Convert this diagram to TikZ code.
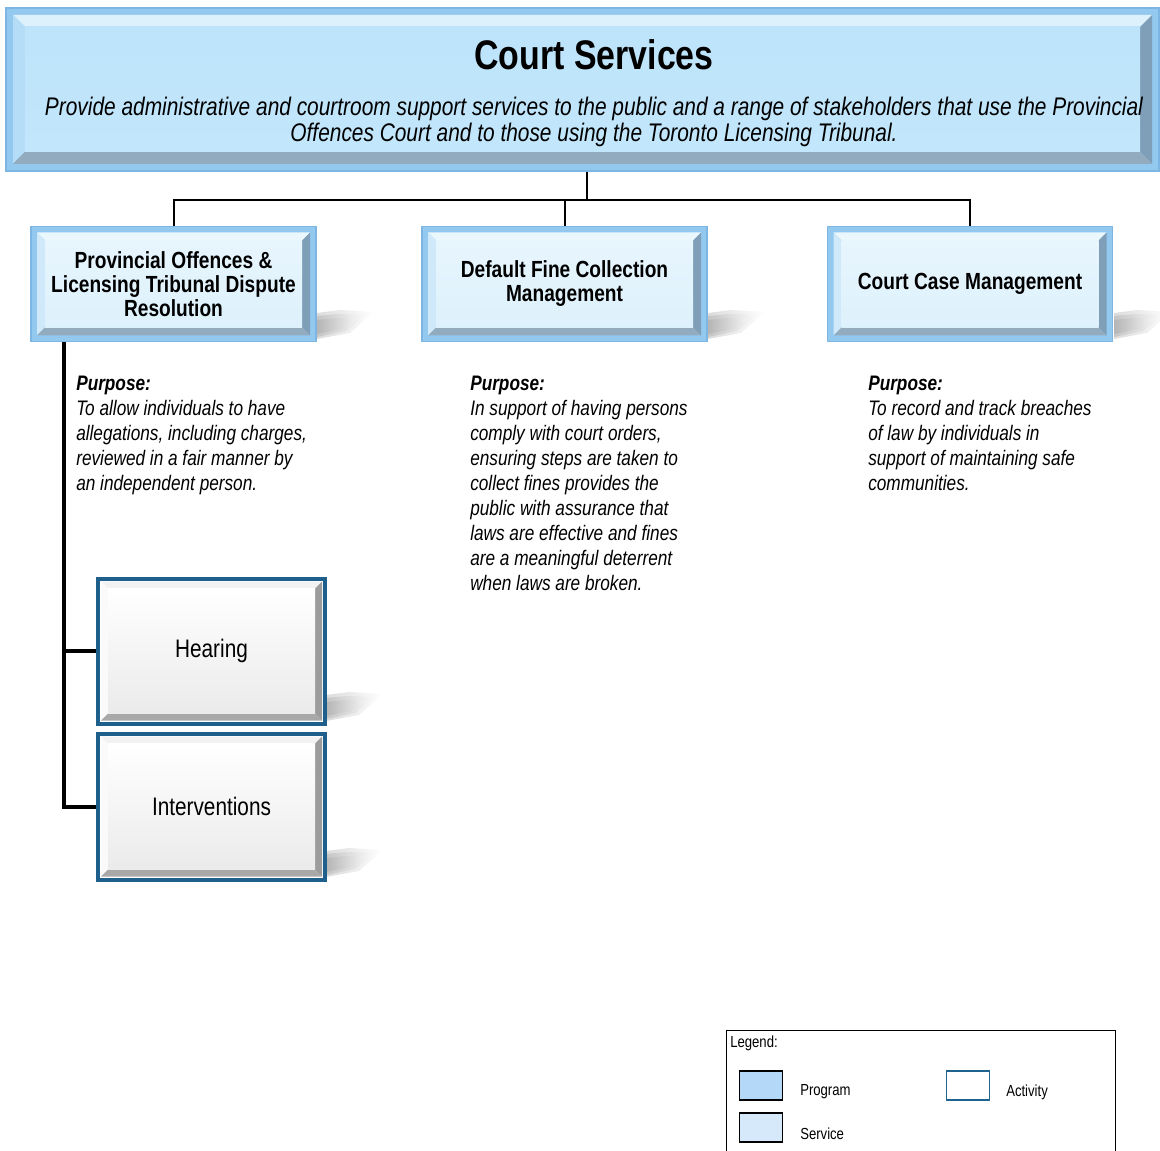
\documentclass[tikz,border=0pt]{standalone}
\usepackage{fontspec}
\setmainfont{Liberation Sans}[FakeStretch=0.82]
\usetikzlibrary{calc}
\def\pxu{0.75pt}
\definecolor{pgmedge}{HTML}{93C8EF}
\definecolor{pgmborder}{HTML}{7DB5E3}
\definecolor{pgmface}{HTML}{BDE4FB}
\definecolor{pgmtopf}{HTML}{DDF1FD}
\definecolor{pgmleftf}{HTML}{B5DDF7}
\definecolor{svcface}{HTML}{DDF1FC}
\definecolor{svctopf}{HTML}{EAF7FD}
\definecolor{svcleftf}{HTML}{CFE9FA}
\definecolor{rightf}{HTML}{7F9FB9}
\definecolor{bottomf}{HTML}{92ABBE}
\definecolor{actedge}{HTML}{1F5F8C}
\definecolor{actright}{HTML}{9C9C9C}
\definecolor{actbottom}{HTML}{A8A8A8}
\definecolor{legpgm}{HTML}{B4D9F8}
\definecolor{legsvc}{HTML}{D5E9FB}
\definecolor{legact}{HTML}{1F6391}
\newcommand{\bevelpic}[8]{%
  \coordinate (pNW) at (path picture bounding box.north west);
  \coordinate (pNE) at (path picture bounding box.north east);
  \coordinate (pSW) at (path picture bounding box.south west);
  \coordinate (pSE) at (path picture bounding box.south east);
  \fill[#3] ($(pNW)+(#1,#1)$) -- ($(pNE)+(-#1,#1)$) -- ($(pNE)+(-#2,#2)$) -- ($(pNW)+(#2,#2)$) -- cycle;
  \fill[#4] ($(pNW)+(#1,#1)$) -- ($(pNW)+(#2,#2)$) -- ($(pSW)+(#2,-#2)$) -- ($(pSW)+(#1,-#1)$) -- cycle;
  \fill[#5] ($(pNE)+(-#1,#1)$) -- ($(pSE)+(-#1,-#1)$) -- ($(pSE)+(-#2,-#2)$) -- ($(pNE)+(-#2,#2)$) -- cycle;
  \fill[#6] ($(pSW)+(#1,-#1)$) -- ($(pSE)+(-#1,-#1)$) -- ($(pSE)+(-#2,-#2)$) -- ($(pSW)+(#2,-#2)$) -- cycle;
  \shade[top color=#7, bottom color=#8] ($(pNW)+(#2,#2)$) rectangle ($(pSE)+(-#2,-#2)$);
}
\tikzset{
  pgmbox/.style={draw=pgmborder, line width=1pt, fill=pgmedge, inner sep=0,
    path picture={\bevelpic{7}{19}{pgmtopf}{pgmleftf}{rightf}{bottomf}{pgmface}{pgmface!92!white}}},
  svcbox/.style={draw=pgmborder, line width=1pt, fill=pgmedge, inner sep=0,
    minimum width=285*\pxu, minimum height=115*\pxu, align=center,
    font=\bfseries\fontsize{17.5}{18}\selectfont,
    path picture={\bevelpic{6}{14}{svctopf}{svcleftf}{rightf}{bottomf}{svcface!70!white}{svcface}}},
  actbox/.style={draw=actedge, line width=3pt, fill=white, inner sep=0,
    minimum width=227*\pxu, align=center,
    font=\fontsize{19}{20}\selectfont,
    path picture={\bevelpic{3}{10}{white!95!black}{white!98!black}{actright}{actbottom}{white}{white!92!black}}},
  conn/.style={line width=1.5pt, black},
  spine/.style={line width=3pt, black},
  purp/.style={anchor=north west, inner sep=0, align=left,
    font=\itshape\fontsize{15.75}{18.75}\selectfont},
  legtxt/.style={anchor=west, inner sep=0, font=\fontsize{12}{13}\selectfont},
  swatch/.style={draw=black, line width=1.3pt, minimum width=43*\pxu, minimum height=29*\pxu, inner sep=0},
  shadowwedge/.style={left color=black!40, right color=white, opacity=0.35}
}
\begin{document}
\begin{tikzpicture}[x=0.75pt, y=-0.75pt]
\useasboundingbox (0,0) rectangle (1160,1151);
% shadows (soft, layered)
\foreach \sx/\sy in {316/341, 707/341, 1113/341, 325/723, 325/879}{
  \shade[shadowwedge] (\sx+1,\sy-2) -- (\sx+1,\sy-28) -- (\sx+24,\sy-31) -- (\sx+58,\sy-29) -- (\sx+34,\sy-8) -- cycle;
  \shade[shadowwedge] (\sx+1,\sy-4) -- (\sx+1,\sy-25) -- (\sx+22,\sy-27) -- (\sx+50,\sy-26) -- (\sx+30,\sy-10) -- cycle;
  \shade[shadowwedge] (\sx+1,\sy-7) -- (\sx+1,\sy-21) -- (\sx+20,\sy-23) -- (\sx+42,\sy-22) -- (\sx+26,\sy-12) -- cycle;
}
% top program box
\node[pgmbox, minimum width=1153*\pxu, minimum height=163*\pxu] (top) at (582.5,89.5) {};
\node[font=\bfseries\fontsize{31}{34}\selectfont, inner sep=0] (title) at (594,55) {Court Services};
\node[font=\itshape\fontsize{19.1}{19.5}\selectfont, align=center, inner sep=0] (sub) at (594,122)
  {Provide administrative and courtroom support services to the public and a range of stakeholders that use the Provincial\\
   Offences Court and to those using the Toronto Licensing Tribunal.};
% services
\node[svcbox] (s1) at (173.5,284) {Provincial Offences \&\\Licensing Tribunal Dispute\\Resolution};
\node[svcbox] (s2) at (564.5,284) {Default Fine Collection\\Management};
\node[svcbox] (s3) at (970,284) {Court Case Management};
% connectors
\coordinate (bus) at (587,200);
\draw[conn] (top.south -| bus) -- (bus);
\draw[conn] (s1.north) -- (s1.north |- bus) -- (s3.north |- bus) -- (s3.north);
\draw[conn] (s2.north) -- (s2.north |- bus);
% activities
\node[actbox, minimum height=145*\pxu] (a1) at (211.5,651) {Hearing};
\node[actbox, minimum height=146*\pxu] (a2) at (211.5,806.5) {Interventions};
\coordinate (sp) at (64,0);
\draw[spine] (s1.south -| sp) -- (a2.west -| sp) -- (a2.west);
\draw[spine] (a1.west -| sp) -- (a1.west);
% purposes
\node[purp] (p1) at (76,375.5) {\textbf{Purpose:}\\To allow individuals to have\\allegations, including charges,\\reviewed in a fair manner by\\an independent person.};
\node[purp] (p2) at (470,375.5) {\textbf{Purpose:}\\In support of having persons\\comply with court orders,\\ensuring steps are taken to\\collect fines provides the\\public with assurance that\\laws are effective and fines\\are a meaningful deterrent\\when laws are broken.};
\node[purp] (p3) at (868,375.5) {\textbf{Purpose:}\\To record and track breaches\\of law by individuals in\\support of maintaining safe\\communities.};
% legend
\node[draw=black, line width=1.1pt, anchor=north west, minimum width=389*\pxu, minimum height=150*\pxu, inner sep=0] (legend) at (726,1030) {};
\node[legtxt] (lt) at (730,1043) {Legend:};
\node[swatch, fill=legpgm] (sw1) at (761,1085.5) {};
\node[legtxt] (l1) at (800,1092) {Program};
\node[swatch, fill=legsvc] (sw2) at (761,1127.5) {};
\node[legtxt] (l2) at (800,1134) {Service};
\node[swatch, draw=legact, fill=white] (sw3) at (968,1085.5) {};
\node[legtxt] (l3) at (1006,1092) {Activity};
\end{tikzpicture}
\end{document}
